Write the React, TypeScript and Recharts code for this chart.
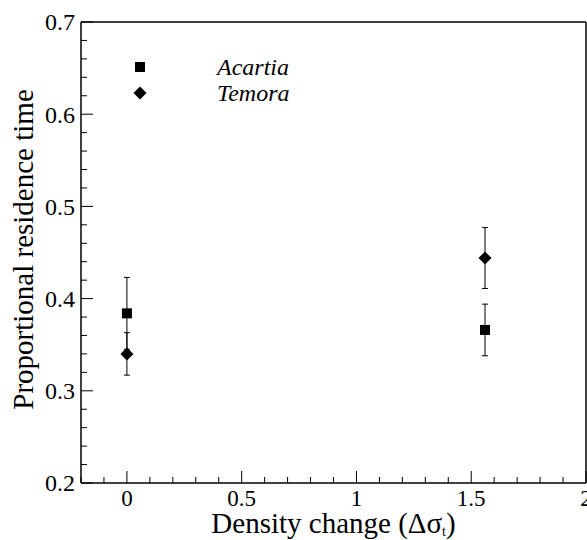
import React from 'react';
import { ScatterChart, Scatter, XAxis, YAxis, ErrorBar, ReferenceLine, Legend } from 'recharts';

// density change (delta sigma_t) for the two treatments
const densityChange = [0, 1.56];

const acartiaMean = [0.384, 0.366];
const acartiaErr = [0.039, 0.028];
const temoraMean = [0.34, 0.444];
const temoraErr = [0.023, 0.033];

const xTicks = [
  -0.2, -0.1, 0, 0.1, 0.2, 0.3, 0.4, 0.5, 0.6, 0.7, 0.8, 0.9,
  1, 1.1, 1.2, 1.3, 1.4, 1.5, 1.6, 1.7, 1.8, 1.9, 2,
];
const xLabels = [0, 0.5, 1, 1.5, 2];

const yTicks = [
  0.2, 0.22, 0.24, 0.26, 0.28, 0.3, 0.32, 0.34, 0.36, 0.38,
  0.4, 0.42, 0.44, 0.46, 0.48, 0.5, 0.52, 0.54, 0.56, 0.58,
  0.6, 0.62, 0.64, 0.66, 0.68, 0.7,
];
const yLabels = [0.2, 0.3, 0.4, 0.5, 0.6, 0.7];

const acartiaData = densityChange.map((x, i) => ({ x, y: acartiaMean[i], err: acartiaErr[i] }));
const temoraData = densityChange.map((x, i) => ({ x, y: temoraMean[i], err: temoraErr[i] }));

const serif = 'Liberation Serif';

const isLabel = (list: number[], v: number) => list.some((l) => Math.abs(l - v) < 1e-6);

const XTick = (props: any) => {
  const { x, y, payload } = props;
  const v = payload.value;
  const major = isLabel(xLabels, v);
  return (
    <g>
      <line x1={x} x2={x} y1={y} y2={y - (major ? 12 : 6)} stroke="#000" strokeWidth={1} />
      {major && (
        <text x={x} y={y + 23} textAnchor="middle" style={{ fontFamily: serif, fontSize: 23 }} fill="#000">
          {String(v)}
        </text>
      )}
    </g>
  );
};

const YTick = (props: any) => {
  const { x, y, payload } = props;
  const v = payload.value;
  const major = isLabel(yLabels, v);
  return (
    <g>
      <line x1={x} x2={x + (major ? 12 : 6)} y1={y} y2={y} stroke="#000" strokeWidth={1} />
      {major && (
        <text x={x - 6} y={y} dy="0.35em" textAnchor="end" style={{ fontFamily: serif, fontSize: 24 }} fill="#000">
          {v.toFixed(1)}
        </text>
      )}
    </g>
  );
};

const YTitle = (props: any) => {
  const { viewBox } = props;
  const cx = viewBox.x + 33;
  const cy = viewBox.y + viewBox.height / 2 - 3;
  return (
    <text
      x={cx}
      y={cy}
      transform={`rotate(-90 ${cx} ${cy})`}
      textAnchor="middle"
      style={{ fontFamily: serif, fontSize: 29 }}
      fill="#000"
    >
      Proportional residence time
    </text>
  );
};

const XTitle = (props: any) => {
  const { viewBox } = props;
  const cx = viewBox.x + viewBox.width / 2;
  const cy = viewBox.y + 50;
  return (
    <text x={cx} y={cy} textAnchor="middle" style={{ fontFamily: serif, fontSize: 29 }} fill="#000">
      Density change (Δσ
      <tspan style={{ fontSize: 14 }} dy={3}>t</tspan>
      <tspan dy={-3}>)</tspan>
    </text>
  );
};

const Square = (props: any) => {
  const { cx, cy } = props;
  return <rect x={cx - 5} y={cy - 5} width={10} height={10} fill="#000" />;
};

const Diamond = (props: any) => {
  const { cx, cy } = props;
  const r = 6.5;
  return <polygon points={`${cx},${cy - r} ${cx + r},${cy} ${cx},${cy + r} ${cx - r},${cy}`} fill="#000" />;
};

const renderLegend = (props: any) => {
  const { payload } = props;
  return (
    <div>
      {(payload || []).map((entry: any) => (
        <div key={entry.value} style={{ display: 'flex', alignItems: 'center', height: 26 }}>
          <svg width={20} height={20} style={{ marginRight: 67 }}>
            {entry.value === 'Acartia' ? <Square cx={10} cy={10} /> : <Diamond cx={10} cy={10} />}
          </svg>
          <span style={{ fontFamily: serif, fontStyle: 'italic', fontSize: 24, lineHeight: '24px', color: '#000' }}>
            {entry.value}
          </span>
        </div>
      ))}
    </div>
  );
};

export default function App() {
  return (
    <div style={{ position: 'absolute', left: 0, top: 0, background: '#fff', fontFamily: serif }}>
      <ScatterChart width={587} height={540} margin={{ top: 22, right: 1, bottom: 0, left: 0 }}>
        <XAxis
          type="number"
          dataKey="x"
          domain={[-0.2, 2]}
          ticks={xTicks}
          interval={0}
          tickSize={0}
          tickMargin={0}
          tick={<XTick />}
          height={57}
          axisLine={{ stroke: '#000', strokeWidth: 1.5 }}
          label={<XTitle />}
          allowDataOverflow
        />
        <YAxis
          type="number"
          dataKey="y"
          domain={[0.2, 0.7]}
          ticks={yTicks}
          interval={0}
          tickSize={0}
          tickMargin={0}
          tick={<YTick />}
          width={81}
          axisLine={{ stroke: '#000', strokeWidth: 1.5 }}
          label={<YTitle />}
          allowDataOverflow
        />
        <ReferenceLine y={0.7} stroke="#000" strokeWidth={1.5} />
        <ReferenceLine x={2} stroke="#000" strokeWidth={1.5} />
        <Legend
          layout="vertical"
          align="center"
          verticalAlign="middle"
          content={renderLegend}
          wrapperStyle={{ left: 130, top: 54, width: 220 }}
        />
        <Scatter name="Acartia" data={acartiaData} fill="#000" shape={<Square />} isAnimationActive={false}>
          <ErrorBar dataKey="err" direction="y" width={3} stroke="#000" strokeWidth={1} />
        </Scatter>
        <Scatter name="Temora" data={temoraData} fill="#000" shape={<Diamond />} isAnimationActive={false}>
          <ErrorBar dataKey="err" direction="y" width={3} stroke="#000" strokeWidth={1} />
        </Scatter>
      </ScatterChart>
    </div>
  );
}
